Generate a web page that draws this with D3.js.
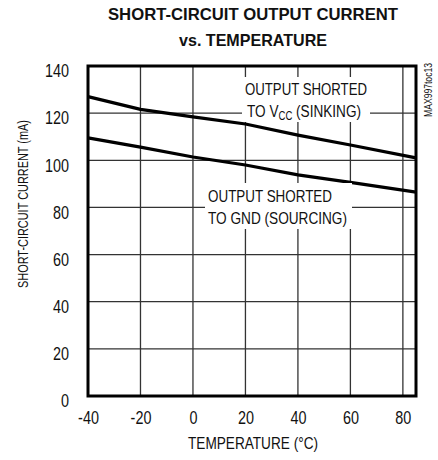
<!DOCTYPE html>
<html>
<head>
<meta charset="utf-8">
<script src="https://cdn.jsdelivr.net/npm/d3@7.9.0/dist/d3.min.js"></script>
<style>
  body { margin: 0; background: #fff; }
  svg text { font-family: "Liberation Sans", Arial, sans-serif; fill: #111; }
</style>
</head>
<body>
<div id="chart"></div>
<script>
// --- data ---
const temps = [-40, -20, 0, 20, 40, 60, 85];
const sinking = [127, 121.6, 118.4, 115.4, 110.7, 106.5, 101];
const sourcing = [109.5, 105.6, 101.4, 98, 93.8, 90.6, 86.5];
const xTicks = [-40, -20, 0, 20, 40, 60, 80];
const yTicks = [0, 20, 40, 60, 80, 100, 120, 140];

const width = 438, height = 460;
const plotLeft = 88, plotRight = 416, plotTop = 66, plotBottom = 396;

const svg = d3.select("#chart").append("svg")
  .attr("width", width).attr("height", height);

const x = d3.scaleLinear().domain([-40, 85]).range([plotLeft, plotRight]);
const y = d3.scaleLinear().domain([0, 140]).range([plotBottom, plotTop]);

// --- gridlines ---
svg.append("g").attr("class", "vgrid").selectAll("line")
  .data(xTicks.slice(1))
  .join("line")
  .attr("x1", d => x(d)).attr("x2", d => x(d))
  .attr("y1", plotTop).attr("y2", plotBottom)
  .attr("stroke", "#333").attr("stroke-width", 1.3);
svg.append("g").attr("class", "hgrid").selectAll("line")
  .data(yTicks.slice(1, -1))
  .join("line")
  .attr("x1", plotLeft).attr("x2", plotRight)
  .attr("y1", d => y(d)).attr("y2", d => y(d))
  .attr("stroke", "#333").attr("stroke-width", 1.3);

// --- curves ---
const curve = d3.line().x((d, i) => x(temps[i])).y(d => y(d));
svg.append("path").datum(sinking)
  .attr("d", curve).attr("fill", "none").attr("stroke", "black").attr("stroke-width", 3.2);
svg.append("path").datum(sourcing)
  .attr("d", curve).attr("fill", "none").attr("stroke", "black").attr("stroke-width", 3.2);

// --- frame ---
svg.append("rect")
  .attr("x", plotLeft).attr("y", plotTop)
  .attr("width", plotRight - plotLeft).attr("height", plotBottom - plotTop)
  .attr("fill", "none").attr("stroke", "black").attr("stroke-width", 3);

// squeezed text helper (the original uses a condensed face)
function squeezed(tx, ty, str, size, len, anchor, rotate) {
  return svg.append("text")
    .attr("transform", `translate(${tx},${ty})` + (rotate ? ` rotate(${rotate})` : ""))
    .attr("text-anchor", anchor || "start")
    .style("font-size", size + "px")
    .attr("textLength", len)
    .attr("lengthAdjust", "spacingAndGlyphs")
    .text(str);
}

// title
squeezed(253, 20, "SHORT-CIRCUIT OUTPUT CURRENT", 16.5, 290, "middle").style("font-weight", "bold");
squeezed(253, 46, "vs. TEMPERATURE", 16.5, 148, "middle").style("font-weight", "bold");

// tick labels
svg.append("g")
  .attr("transform", `translate(0,${plotBottom})`)
  .call(d3.axisBottom(x).tickValues(xTicks).tickSize(0).tickPadding(15).tickFormat(d => String(d)))
  .call(g => g.select(".domain").remove())
  .call(g => g.selectAll("text")
    .style("font-size", "18px")
    .attr("transform", "scale(0.8,1)"));
svg.append("g")
  .attr("transform", `translate(${plotLeft},0)`)
  .call(d3.axisLeft(y).tickValues(yTicks).tickSize(0).tickFormat(d => String(d)))
  .call(g => g.select(".domain").remove())
  .call(g => g.selectAll("text")
    .style("font-size", "18px")
    .attr("dy", "0.6em")
    .attr("x", -19 / 0.8)
    .attr("transform", "scale(0.8,1)"));

// annotation labels with white backgrounds
svg.append("rect").attr("x", 242).attr("y", 77).attr("width", 128).attr("height", 45).attr("fill", "white");
squeezed(245, 95, "OUTPUT SHORTED", 17, 122);
const vcc = svg.append("text")
  .attr("transform", "translate(247,117) scale(0.8,1)")
  .style("font-size", "17px");
vcc.append("tspan").text("TO V");
vcc.append("tspan").attr("dy", 3).style("font-size", "12px").text("CC");
vcc.append("tspan").attr("dy", -3).text(" (SINKING)");

svg.append("rect").attr("x", 205).attr("y", 183).attr("width", 147).attr("height", 46).attr("fill", "white");
squeezed(208, 202, "OUTPUT SHORTED", 17, 124);
squeezed(208, 224, "TO GND (SOURCING)", 17, 139);

// axis titles
squeezed(253, 449, "TEMPERATURE (°C)", 16, 130, "middle");
squeezed(28, 204, "SHORT-CIRCUIT CURRENT (mA)", 15, 168, "middle", -90);

// part code
squeezed(432, 63, "MAX997toc13", 10, 54, "end", -90);
</script>
</body>
</html>
